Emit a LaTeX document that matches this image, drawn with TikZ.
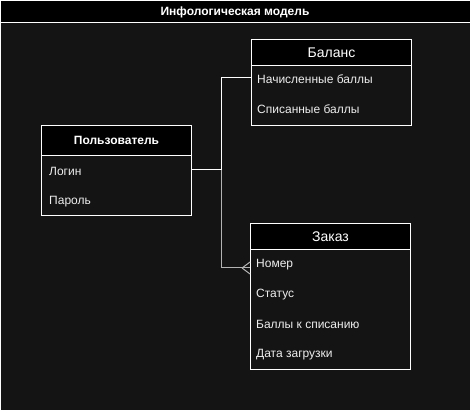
\documentclass[tikz,border=0pt]{standalone}
\usepackage{fontspec}
\setmainfont{Liberation Sans}
\usetikzlibrary{positioning}
\definecolor{canvas}{HTML}{141414}
\definecolor{rowtext}{HTML}{EEEEEE}
\definecolor{linkgray}{HTML}{B3B3B3}
\tikzset{
  head/.style={draw=white, fill=black, text=white, inner sep=0pt, anchor=north west, line width=1pt},
  body/.style={draw=white, fill=canvas, inner sep=0pt, anchor=north west, line width=1pt},
  row/.style={text=rowtext, inner sep=0pt, anchor=west, yshift=-1.5pt, font=\fontsize{12}{14}\selectfont},
  link/.style={draw=white, line width=1pt},
  manylink/.style={draw=linkgray, line width=1pt}
}
\begin{document}
\begin{tikzpicture}[x=1pt, y=-1pt]
\useasboundingbox (0,0) rectangle (471,411);
\fill[canvas] (0,0) rectangle (471,411);
\fill[black] (0,0) rectangle (471,23);
\draw[white, line width=1pt] (0.5,0.5) rectangle (470.5,410.5);
\draw[white, line width=1pt] (0.5,23) -- (470.5,23);
\node[text=white, font=\bfseries\fontsize{12}{14}\selectfont] (title) at (235,12) {Инфологическая модель};

% Пользователь
\node[head, minimum width=150pt, minimum height=30pt, font=\bfseries\fontsize{12}{14}\selectfont] (userhead) at (41,125) {Пользователь};
\node[body, minimum width=150pt, minimum height=60pt] (userbody) at (41,155) {};
\node[row] (login) at (49,170) {Логин};
\node[row] (parol) at (49,200) {Пароль};

% Баланс
\node[head, minimum width=160pt, minimum height=26pt, font=\fontsize{14}{16}\selectfont] (balhead) at (251,39) {Баланс};
\node[body, minimum width=160pt, minimum height=60pt] (balbody) at (251,65) {};
\node[row] (nach) at (257,78) {Начисленные баллы};
\node[row] (spis) at (257,108) {Списанные баллы};

% Заказ
\node[head, minimum width=160pt, minimum height=26pt, font=\fontsize{14}{16}\selectfont] (ordhead) at (250,223) {Заказ};
\node[body, minimum width=160pt, minimum height=120pt] (ordbody) at (250,249) {};
\node[row] (nomer) at (256,263) {Номер};
\node[row] (status) at (256,293) {Статус};
\node[row] (ballspis) at (256,323) {Баллы к списанию};
\node[row] (datazagr) at (256,353) {Дата загрузки};

% связи
\coordinate (fork) at (221,170);
\coordinate (manyend) at (ordbody.west |- 0,268);
\draw[manylink] (fork) |- (manyend);
\draw[manylink] ([xshift=-8pt]manyend) -- ([yshift=6pt]manyend);
\draw[manylink] ([xshift=-8pt]manyend) -- ([yshift=-6pt]manyend);
\draw[link] (userbody.east |- fork) -- (fork) |- (balbody.west |- 0,78);

\end{tikzpicture}
\end{document}
